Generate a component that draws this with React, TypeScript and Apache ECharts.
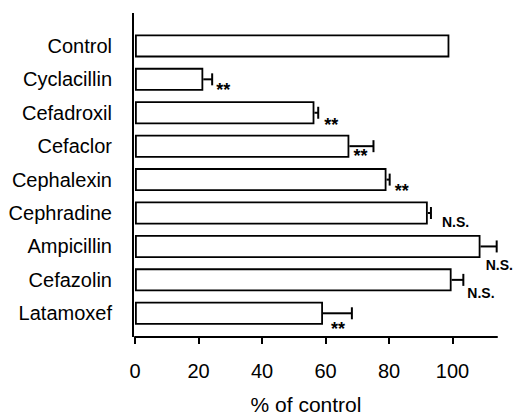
import React, { useEffect, useRef } from "react";
import * as echarts from "echarts";

const categories = [
  "Control",
  "Cyclacillin",
  "Cefadroxil",
  "Cefaclor",
  "Cephalexin",
  "Cephradine",
  "Ampicillin",
  "Cefazolin",
  "Latamoxef",
];
const meanValues = [99, 21.5, 56.5, 67.5, 79.2, 92.2, 108.8, 99.7, 59.2];
const errorValues = [0, 2.8, 1.2, 7.6, 1.0, 1.0, 5.1, 3.7, 9.1];
const significance = ["", "**", "**", "**", "**", "N.S.", "N.S.", "N.S.", "**"];
const xTickValues = [0, 20, 40, 60, 80, 100];

// annotation placement (pixels, relative to the end of the error whisker)
const sigDx = [0, 4, 6, -20, 5, 11, -11, 4, -21];
const sigDy = [0, 11, 12, 10, 11.5, 9, 18.5, 13, 16];

const FONT = "'Liberation Sans', Arial, Helvetica, sans-serif";

export default function App() {
  const ref = useRef<HTMLDivElement>(null);

  useEffect(() => {
    if (!ref.current) return;
    const chart = echarts.init(ref.current, null, { renderer: "svg" });
    const option: any = {
      animation: false,
      backgroundColor: "#fff",
      textStyle: { fontFamily: FONT, color: "#000" },
      grid: { left: 135, right: 16, top: 29.2, bottom: 79.7 },
      xAxis: {
        type: "value",
        min: 0,
        max: 114,
        interval: 20,
        offset: 7,
        axisLine: { show: true, lineStyle: { color: "#000", width: 2 } },
        axisTick: {
          show: true,
          length: 7,
          customValues: xTickValues,
          lineStyle: { color: "#000", width: 2 },
        },
        axisLabel: {
          customValues: xTickValues,
          color: "#000",
          fontSize: 20,
          fontFamily: FONT,
          margin: 24,
        },
        splitLine: { show: false },
        name: "% of control",
        nameLocation: "middle",
        nameGap: 57,
        nameTextStyle: {
          color: "#000",
          fontSize: 21,
          fontFamily: FONT,
          padding: [0, 20, 0, 0],
        },
      },
      yAxis: {
        type: "category",
        data: categories,
        inverse: true,
        axisLine: { show: false },
        axisTick: { show: false },
        axisLabel: { color: "#000", fontSize: 20, fontFamily: FONT, margin: 23 },
        splitLine: { show: false },
      },
      graphic: [
        {
          type: "line",
          shape: { x1: 133, y1: 13, x2: 133, y2: 337 },
          style: { stroke: "#000", lineWidth: 2 },
          z: 10,
        },
      ],
      series: [
        {
          type: "bar",
          data: meanValues,
          barWidth: 23,
          itemStyle: { color: "#fff", borderColor: "#000", borderWidth: 1.8 },
        },
        {
          type: "custom",
          encode: { x: 0, y: 1 },
          clip: false,
          z: 5,
          data: meanValues.map((v, i) => [v, i, errorValues[i]]),
          renderItem: (params: any, api: any) => {
            const i = params.dataIndex;
            const v = api.value(0);
            const idx = api.value(1);
            const e = api.value(2);
            const c0 = api.coord([v, idx]);
            const c1 = api.coord([v + e, idx]);
            const children: any[] = [];
            if (e > 0) {
              children.push({
                type: "line",
                shape: { x1: c0[0], y1: c0[1], x2: c1[0], y2: c1[1] },
                style: { stroke: "#000", lineWidth: 2 },
              });
              children.push({
                type: "line",
                shape: { x1: c1[0], y1: c1[1] - 6, x2: c1[0], y2: c1[1] + 6 },
                style: { stroke: "#000", lineWidth: 2 },
              });
            }
            const s = significance[i];
            if (s) {
              children.push({
                type: "text",
                x: c1[0] + sigDx[i],
                y: c1[1] + sigDy[i],
                style: {
                  text: s,
                  fill: "#000",
                  fontSize: s === "**" ? 18 : 14,
                  fontWeight: "bold",
                  fontFamily: FONT,
                  align: "left",
                  verticalAlign: "middle",
                },
              });
            }
            return { type: "group", children };
          },
        },
      ],
    };
    chart.setOption(option);
    return () => chart.dispose();
  }, []);

  return (
    <div
      ref={ref}
      style={{ position: "fixed", left: 0, top: 0, width: 513, height: 420, background: "#fff" }}
    />
  );
}
